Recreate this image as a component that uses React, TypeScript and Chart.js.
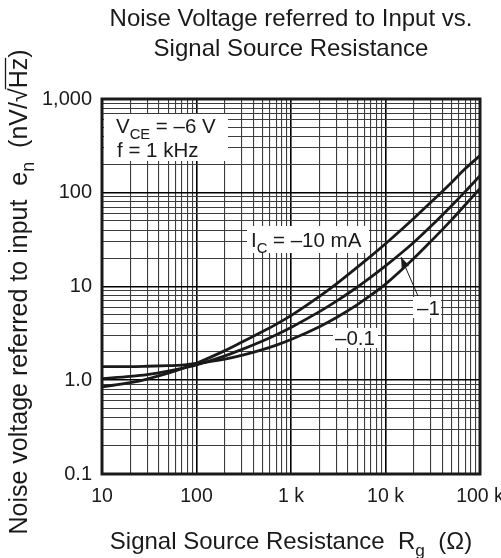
import React, { useEffect, useRef } from 'react';
import { Chart, registerables } from 'chart.js';

Chart.register(...registerables);

// Source resistance Rg (Ω)
const R_VALUES = [10, 20, 30, 50, 70, 100, 200, 300, 500, 700, 1000, 2000, 3000, 5000, 7000, 10000, 20000, 30000, 50000, 70000, 100000];
// Noise voltage en (nV/√Hz) for each collector current
const EN_IC_10MA = [0.85, 0.944, 1.03, 1.19, 1.33, 1.52, 2.07, 2.54, 3.31, 3.97, 4.89, 7.83, 10.6, 16.0, 21.1, 28.6, 53.5, 78.5, 129, 181, 249];
const EN_IC_1MA = [1.04, 1.1, 1.15, 1.25, 1.34, 1.46, 1.82, 2.12, 2.62, 3.06, 3.66, 5.39, 6.93, 9.82, 12.6, 16.6, 29.7, 43.6, 72.8, 103.5, 152];
const EN_IC_01MA = [1.4, 1.4, 1.41, 1.43, 1.45, 1.51, 1.68, 1.84, 2.12, 2.37, 2.72, 3.73, 4.65, 6.38, 8.07, 10.6, 20.0, 30.1, 51.4, 74.5, 111];

const X_MAJOR = [10, 100, 1000, 10000, 100000];
const X_LABELS = ['10', '100', '1 k', '10 k', '100 k'];
const Y_MAJOR = [0.1, 1, 10, 100, 1000];
const Y_LABELS = ['0.1', '1.0', '10', '100', '1,000'];

const FONT = '"Liberation Sans", Arial, Helvetica, sans-serif';

function gridValues(min: number, max: number): number[] {
  const out: number[] = [];
  for (let d = min; d < max * 0.999; d *= 10) {
    for (let k = 1; k <= 9; k++) out.push(Number((k * d).toPrecision(6)));
  }
  out.push(max);
  return out;
}

function isIn(list: number[], v: number) {
  return list.some((m) => Math.abs(m - v) / m < 1e-6);
}

type Seg = { t: string; sub?: boolean; over?: boolean };

function drawRich(ctx: CanvasRenderingContext2D, segs: Seg[], x: number, y: number, size: number, align: 'left' | 'center') {
  const subSize = size * 0.72;
  const widths = segs.map((s) => {
    ctx.font = `${s.sub ? subSize : size}px ${FONT}`;
    return ctx.measureText(s.t).width;
  });
  const total = widths.reduce((a, b) => a + b, 0);
  let cx = align === 'center' ? x - total / 2 : x;
  ctx.textAlign = 'left';
  ctx.textBaseline = 'alphabetic';
  segs.forEach((s, i) => {
    ctx.font = `${s.sub ? subSize : size}px ${FONT}`;
    ctx.fillText(s.t, cx, s.sub ? y + size * 0.28 : y);
    if (s.over) {
      ctx.beginPath();
      ctx.lineWidth = 1.3;
      ctx.moveTo(cx - 1, y - size * 0.86);
      ctx.lineTo(cx + widths[i], y - size * 0.86);
      ctx.stroke();
    }
    cx += widths[i];
  });
  return total;
}

const overlayPlugin = {
  id: 'overlay',
  afterDraw(chart: any) {
    const ctx: CanvasRenderingContext2D = chart.ctx;
    const a = chart.chartArea;
    ctx.save();
    ctx.fillStyle = '#1a1a1a';
    ctx.strokeStyle = '#1a1a1a';

    // frame
    ctx.lineWidth = 3;
    ctx.strokeRect(a.left, a.top, a.right - a.left, a.bottom - a.top);

    // title
    const cxTitle = (a.left + a.right) / 2;
    drawRich(ctx, [{ t: 'Noise Voltage referred to Input vs.' }], cxTitle, 26, 24, 'center');
    drawRich(ctx, [{ t: 'Signal Source Resistance' }], cxTitle, 56, 24, 'center');

    // x title
    drawRich(ctx, [{ t: 'Signal Source Resistance  R' }, { t: 'g', sub: true }, { t: '  (Ω)' }], cxTitle, 549, 24, 'center');

    // y title
    ctx.save();
    ctx.translate(27, 292);
    ctx.rotate(-Math.PI / 2);
    drawRich(
      ctx,
      [{ t: 'Noise voltage referred to input  e' }, { t: 'n', sub: true }, { t: '  (nV/' }, { t: '√' }, { t: 'Hz', over: true }, { t: ')' }],
      0,
      0,
      25,
      'center'
    );
    ctx.restore();

    // annotation boxes
    ctx.fillStyle = '#ffffff';
    ctx.fillRect(104, 114, 124, 47);
    ctx.fillRect(247, 226, 122, 27);
    ctx.fillRect(413, 297, 28, 21);
    ctx.fillRect(333, 328, 45, 20);
    ctx.fillStyle = '#1a1a1a';
    drawRich(ctx, [{ t: 'V' }, { t: 'CE', sub: true }, { t: ' = –6 V' }], 116, 133, 20.5, 'left');
    drawRich(ctx, [{ t: 'f = 1 kHz' }], 117, 157, 20.5, 'left');
    drawRich(ctx, [{ t: 'I' }, { t: 'C', sub: true }, { t: ' = –10 mA' }], 251, 247, 20.5, 'left');
    drawRich(ctx, [{ t: '–1' }], 417, 315, 20.5, 'left');
    drawRich(ctx, [{ t: '–0.1' }], 335, 345, 20.5, 'left');

    // pointer arrow for –1
    const x0 = 418, y0 = 296, x1 = 401, y1 = 257;
    ctx.lineWidth = 1;
    ctx.beginPath();
    ctx.moveTo(x0, y0);
    ctx.lineTo(x1, y1);
    ctx.stroke();
    const dx = x1 - x0, dy = y1 - y0;
    const len = Math.hypot(dx, dy);
    const ux = dx / len, uy = dy / len;
    const hl = 11, hw = 4;
    ctx.beginPath();
    ctx.moveTo(x1, y1);
    ctx.lineTo(x1 - ux * hl - uy * hw, y1 - uy * hl + ux * hw);
    ctx.lineTo(x1 - ux * hl + uy * hw, y1 - uy * hl - ux * hw);
    ctx.closePath();
    ctx.fill();

    ctx.restore();
  },
};

function series(ys: number[]) {
  return R_VALUES.map((x, i) => ({ x, y: ys[i] }));
}

export default function App() {
  const ref = useRef<HTMLCanvasElement | null>(null);

  useEffect(() => {
    if (!ref.current) return;
    const xGrid = gridValues(10, 100000);
    const yGrid = gridValues(0.1, 1000);
    const lineStyle = {
      borderColor: '#1a1a1a',
      borderWidth: 2.8,
      pointRadius: 0,
      fill: false,
      cubicInterpolationMode: 'monotone' as const,
    };
    const chart = new Chart(ref.current, {
      type: 'line',
      data: {
        datasets: [
          { label: 'IC = –10 mA', data: series(EN_IC_10MA), ...lineStyle },
          { label: 'IC = –1 mA', data: series(EN_IC_1MA), ...lineStyle },
          { label: 'IC = –0.1 mA', data: series(EN_IC_01MA), ...lineStyle },
        ],
      },
      options: {
        responsive: false,
        animation: false,
        events: [],
        layout: { autoPadding: false, padding: { left: 0, top: 99, right: 21, bottom: 44 } },
        plugins: { legend: { display: false }, tooltip: { enabled: false }, title: { display: false } },
        scales: {
          x: {
            type: 'logarithmic',
            min: 10,
            max: 100000,
            afterBuildTicks: (scale: any) => {
              scale.ticks = xGrid.map((v) => ({ value: v, major: isIn(X_MAJOR, v) }));
            },
            afterFit: (scale: any) => {
              scale.height = 40;
              scale.paddingLeft = 0;
              scale.paddingRight = 0;
            },
            ticks: {
              autoSkip: false,
              maxRotation: 0,
              minRotation: 0,
              padding: 11,
              color: '#1a1a1a',
              font: { family: FONT, size: 19.5 },
              callback: (value: any) => {
                const i = X_MAJOR.findIndex((m) => Math.abs(m - Number(value)) / m < 1e-6);
                return i >= 0 ? X_LABELS[i] : '';
              },
            },
            grid: {
              drawTicks: false,
              color: (c: any) => (c.tick && isIn(X_MAJOR, c.tick.value) ? '#000' : '#3c3c3c'),
              lineWidth: (c: any) => (c.tick && isIn(X_MAJOR, c.tick.value) ? 1.6 : 1.1),
            },
            border: { display: false },
          },
          y: {
            type: 'logarithmic',
            min: 0.1,
            max: 1000,
            afterBuildTicks: (scale: any) => {
              scale.ticks = yGrid.map((v) => ({ value: v, major: isIn(Y_MAJOR, v) }));
            },
            afterFit: (scale: any) => {
              scale.width = 102;
              scale.paddingTop = 0;
              scale.paddingBottom = 0;
            },
            ticks: {
              autoSkip: false,
              padding: 10,
              color: '#1a1a1a',
              font: { family: FONT, size: 20 },
              callback: (value: any) => {
                const i = Y_MAJOR.findIndex((m) => Math.abs(m - Number(value)) / m < 1e-6);
                return i >= 0 ? Y_LABELS[i] : '';
              },
            },
            grid: {
              drawTicks: false,
              color: (c: any) => (c.tick && isIn(Y_MAJOR, c.tick.value) ? '#000' : '#3c3c3c'),
              lineWidth: (c: any) => (c.tick && isIn(Y_MAJOR, c.tick.value) ? 1.6 : 1.1),
            },
            border: { display: false },
          },
        },
      },
      plugins: [overlayPlugin],
    } as any);
    return () => chart.destroy();
  }, []);

  return (
    <div style={{ position: 'absolute', left: 0, top: 0, width: 501, height: 558, background: '#fff' }}>
      <canvas ref={ref} width={501} height={558} style={{ display: 'block', width: 501, height: 558 }} />
    </div>
  );
}
